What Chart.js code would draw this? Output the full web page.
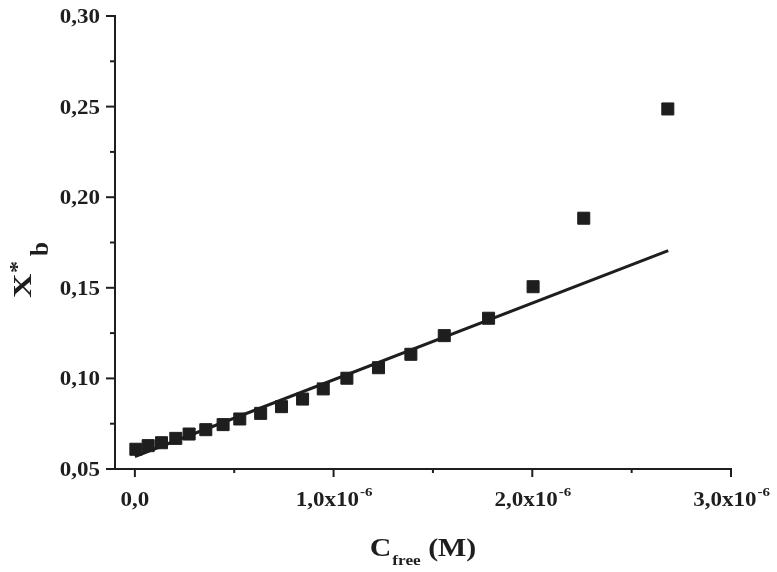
<!DOCTYPE html>
<html>
<head>
<meta charset="utf-8">
<script src="https://cdn.jsdelivr.net/npm/chart.js@4"></script>
<style>
  html, body { margin: 0; padding: 0; background: #fff; }
  #wrap { width: 777px; height: 572px; }
</style>
</head>
<body>
<div id="wrap"><canvas id="chart" width="777" height="572"></canvas></div>
<script>
// C_free in units of 1e-6 M
const cFree = [0.005, 0.067, 0.134, 0.206, 0.273, 0.357, 0.444, 0.528, 0.633, 0.738,
  0.844, 0.948, 1.067, 1.226, 1.389, 1.557, 1.780, 2.004, 2.259, 2.682];
const xbStar = [0.0609, 0.0629, 0.0645, 0.0669, 0.0693, 0.0717, 0.0745, 0.0776, 0.0807, 0.0844,
  0.0886, 0.0942, 0.1001, 0.1059, 0.1133, 0.1236, 0.1332, 0.1506, 0.1884, 0.2487];

// fitted line (start and end)
const fitX = [0, 2.684];
const fitY = [0.0569, 0.1705];

const xTicks = [0, 0.5, 1.0, 1.5, 2.0, 2.5, 3.0];
const yTicks = [0.05, 0.075, 0.10, 0.125, 0.15, 0.175, 0.20, 0.225, 0.25, 0.275, 0.30];

const ink = '#1e1e1e';
const serif = '"Liberation Serif", "Times New Roman", serif';
const stretch = 1.15;

function isMajor(v, step) {
  return Math.abs(v / step - Math.round(v / step)) < 1e-6;
}

function stretchedText(ctx, text, x, y, font, align, k) {
  k = k || stretch;
  ctx.save();
  ctx.font = font;
  ctx.translate(x, y);
  ctx.scale(k, 1);
  ctx.textAlign = align || 'left';
  ctx.fillText(text, 0, 0);
  const w = ctx.measureText(text).width * k;
  ctx.restore();
  return w;
}

function textWidth(ctx, text, font, k) {
  ctx.save();
  ctx.font = font;
  const w = ctx.measureText(text).width * (k || stretch);
  ctx.restore();
  return w;
}

const axisDecor = {
  id: 'axisDecor',
  afterDraw(chart) {
    const ctx = chart.ctx;
    const xs = chart.scales.x;
    const ys = chart.scales.y;
    const area = chart.chartArea;
    ctx.save();
    ctx.strokeStyle = ink;
    ctx.fillStyle = ink;
    ctx.lineWidth = 2;

    // tick marks
    xs.ticks.forEach(t => {
      const px = xs.getPixelForValue(t.value);
      const len = isMajor(t.value, 1) ? 8 : 4;
      ctx.beginPath();
      ctx.moveTo(px, area.bottom);
      ctx.lineTo(px, area.bottom + len);
      ctx.stroke();
    });
    ys.ticks.forEach(t => {
      const py = ys.getPixelForValue(t.value);
      const len = isMajor(t.value, 0.05) ? 9 : 5;
      ctx.beginPath();
      ctx.moveTo(area.left, py);
      ctx.lineTo(area.left - len, py);
      ctx.stroke();
    });

    // tick labels
    const tickFont = 'bold 20px ' + serif;
    const supFont = 'bold 13px ' + serif;
    ctx.textBaseline = 'alphabetic';
    ys.ticks.forEach(t => {
      if (!isMajor(t.value, 0.05)) return;
      const py = ys.getPixelForValue(t.value);
      stretchedText(ctx, t.value.toFixed(2).replace('.', ','), area.left - 15, py + 7, tickFont, 'right');
    });
    xs.ticks.forEach(t => {
      if (!isMajor(t.value, 1)) return;
      const px = xs.getPixelForValue(t.value);
      const base = area.bottom + 37;
      if (t.value === 0) {
        stretchedText(ctx, '0,0', px, base, tickFont, 'center');
        return;
      }
      const main = t.value.toFixed(1).replace('.', ',') + 'x10';
      const wMain = textWidth(ctx, main, tickFont);
      const wSup = textWidth(ctx, '-6', supFont);
      const start = px - (wMain + wSup) / 2;
      stretchedText(ctx, main, start, base, tickFont);
      stretchedText(ctx, '-6', start + wMain + 1, base - 10, supFont);
    });

    // x title: C_free (M)
    const tFont = 'bold 26px ' + serif;
    const subFont = 'bold 15px ' + serif;
    const wC = textWidth(ctx, 'C', tFont);
    const wFree = textWidth(ctx, 'free', subFont);
    const wM = textWidth(ctx, ' (M)', tFont);
    const cx = (area.left + area.right) / 2;
    const x0 = cx - (wC + wFree + 1 + wM) / 2;
    const tb = 556;
    stretchedText(ctx, 'C', x0, tb, tFont);
    stretchedText(ctx, 'free', x0 + wC + 1, tb + 9, subFont);
    stretchedText(ctx, ' (M)', x0 + wC + wFree + 1, tb, tFont);

    // y title: X*_b (rotated, reads upward)
    ctx.save();
    ctx.translate(31, 298);
    ctx.rotate(-Math.PI / 2);
    stretchedText(ctx, 'X', 0, 0, 'bold 25px ' + serif, 'left', 1.35);
    stretchedText(ctx, '*', 25, -7, 'bold 22px ' + serif, 'left', 1.1);
    stretchedText(ctx, 'b', 42, 17, 'bold 25px ' + serif, 'left', 1.0);
    ctx.restore();

    ctx.restore();
  }
};

const points = cFree.map((c, i) => ({ x: c, y: xbStar[i] }));
const fit = fitX.map((c, i) => ({ x: c, y: fitY[i] }));

new Chart(document.getElementById('chart'), {
  type: 'scatter',
  data: {
    datasets: [
      {
        label: 'fit',
        data: fit,
        showLine: true,
        borderColor: ink,
        borderWidth: 3,
        pointRadius: 0,
        order: 2,
      },
      {
        label: 'X*b',
        data: points,
        pointStyle: 'rect',
        pointRadius: 8.5,
        pointBackgroundColor: ink,
        pointBorderColor: ink,
        pointBorderWidth: 1,
        order: 1,
      },
    ],
  },
  options: {
    responsive: false,
    animation: false,
    layout: { padding: { top: 16, right: 46, left: 0, bottom: 0 } },
    plugins: {
      legend: { display: false },
      tooltip: { enabled: false },
    },
    scales: {
      x: {
        type: 'linear',
        min: -0.1,
        max: 3.0,
        afterBuildTicks: s => { s.ticks = xTicks.map(v => ({ value: v })); },
        afterFit: s => { s.height = 103; },
        ticks: { display: false },
        grid: { display: false },
        border: { display: true, color: ink, width: 2 },
      },
      y: {
        type: 'linear',
        min: 0.05,
        max: 0.30,
        afterBuildTicks: s => { s.ticks = yTicks.map(v => ({ value: v })); },
        afterFit: s => { s.width = 115; },
        ticks: { display: false },
        grid: { display: false },
        border: { display: true, color: ink, width: 2 },
      },
    },
  },
  plugins: [axisDecor],
});
</script>
</body>
</html>
